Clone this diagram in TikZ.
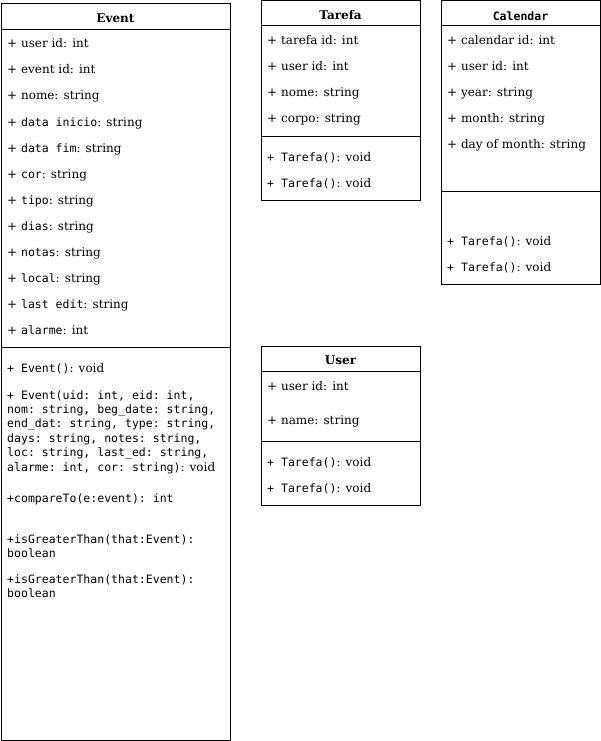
\documentclass[tikz,border=0pt]{standalone}
\usepackage{fontspec}
\setmainfont{DejaVu Serif}
\setmonofont{DejaVu Sans Mono}[Scale=0.96]
\usetikzlibrary{positioning}

\tikzset{
  classbox/.style={draw, line width=1pt, inner sep=0pt, outer sep=0pt, anchor=north west},
  row/.style={anchor=west, inner sep=0pt, text height=9pt, text depth=3pt, yshift=-2pt, font=\fontsize{12}{14.4}\selectfont},
  head/.style={row, anchor=center, yshift=-0.5pt, font=\fontsize{12}{14.4}\selectfont\bfseries},
}

\begin{document}
\begin{tikzpicture}[x=1pt,y=-1pt]
\useasboundingbox (0,0) rectangle (601,741);
\node[classbox, minimum width=229pt, minimum height=736pt] (event) at (1,4) {};
\node[classbox, minimum width=159pt, minimum height=199pt] (tarefa) at (261,1) {};
\node[classbox, minimum width=159pt, minimum height=283pt] (calendar) at (441,1) {};
\node[classbox, minimum width=159pt, minimum height=159pt] (user) at (261,346) {};
\draw[line width=1pt] (1,30) -- (230,30) (1,347) -- (230,347);
\draw[line width=1pt] (261,26) -- (420,26) (261,136) -- (420,136);
\draw[line width=1pt] (441,26) -- (600,26) (441,191) -- (600,191);
\draw[line width=1pt] (261,371) -- (420,371) (261,441) -- (420,441);
\node[head] (event-name) at (115.5,17) {Event};
\node[head] (tarefa-name) at (340.5,14) {Tarefa};
\node[head] (calendar-name) at (520.5,15) {\texttt{Calendar}};
\node[head] (user-name) at (340.5,359) {User};
\foreach \t [count=\i from 0] in {{+ user id: int}, {+ event id: int}, {+ nome: string},
  {+ \texttt{data inicio}: string}, {+ \texttt{data fim}: string}, {+ \texttt{cor}: string},
  {+ \texttt{tipo}: string}, {+ \texttt{dias}: string}, {+ \texttt{notas}: string},
  {+ \texttt{local}: string}, {+ \texttt{last edit}: string}, {+ \texttt{alarme}: int}}
  \node[row] (event-a\i) at (7,{43+26*\i}) {\t};
\node[row] (event-m0) at (7,367) {\texttt{+ Event()}: void};
\foreach \t [count=\i from 0] in {{\texttt{+ Event(uid: int, eid: int,}},
  {\texttt{nom: string, beg\_date: string,}}, {\texttt{end\_dat: string, type: string,}},
  {\texttt{days: string, notes: string,}}, {\texttt{loc: string, last\_ed: string,}},
  {\texttt{alarme: int, cor: string)}: void}}
  \node[row] (event-m1-\i) at (7,{394+14.4*\i}) {\t};
\node[row] (event-m2) at (7,497) {\texttt{+compareTo(e:event): int}};
\node[row] (event-m3) at (7,538) {\texttt{+isGreaterThan(that:Event):}};
\node[row] (event-m3b) at (7,552) {\texttt{boolean}};
\node[row] (event-m4) at (7,578) {\texttt{+isGreaterThan(that:Event):}};
\node[row] (event-m4b) at (7,592) {\texttt{boolean}};
\foreach \t [count=\i from 0] in {{+ tarefa id: int}, {+ user id: int}, {+ nome: string}, {+ corpo: string}}
  \node[row] (tarefa-a\i) at (267,{40+26*\i}) {\t};
\foreach \y [count=\i from 0] in {156,182}
  \node[row] (tarefa-m\i) at (267,\y) {\texttt{+ Tarefa()}: void};
\foreach \t [count=\i from 0] in {{+ calendar id: int}, {+ user id: int}, {+ year: string},
  {+ month: string}, {+ day of month: string}}
  \node[row] (calendar-a\i) at (447,{40+26*\i}) {\t};
\foreach \y [count=\i from 0] in {240,266}
  \node[row] (calendar-m\i) at (447,\y) {\texttt{+ Tarefa()}: void};
\node[row] (user-a0) at (267,385) {+ user id: int};
\node[row] (user-a1) at (267,419) {+ name: string};
\foreach \y [count=\i from 0] in {461,487}
  \node[row] (user-m\i) at (267,\y) {\texttt{+ Tarefa()}: void};
\end{tikzpicture}
\end{document}
